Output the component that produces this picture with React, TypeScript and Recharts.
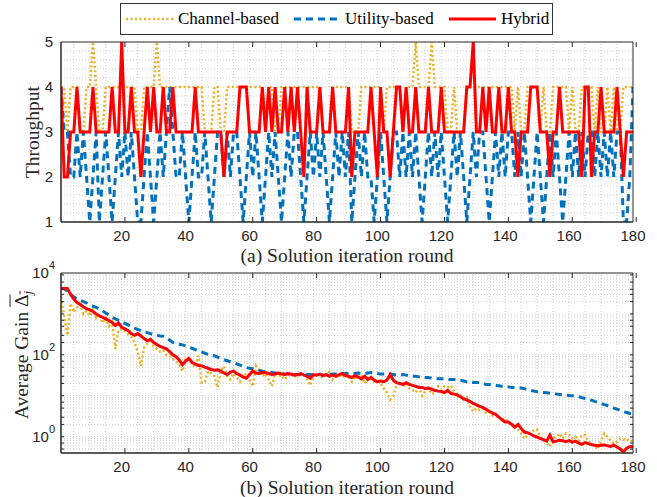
import React from "react";
import { LineChart, Line, XAxis, YAxis, ReferenceLine } from "recharts";

// solution iteration rounds 1..180
const rounds = Array.from({ length: 180 }, (_, i) => i + 1);

// (a) throughput per round
const channelThroughput = [
  4, 4, 3, 4, 4, 4, 3, 3, 4, 4,
  5, 4, 3, 3, 4, 4, 4, 4, 4, 4,
  4, 4, 4, 4, 3, 3, 4, 4, 4, 4,
  5, 4, 4, 4, 4, 4, 4, 4, 4, 4,
  4, 4, 4, 4, 4, 3, 3, 3, 4, 4,
  3, 3, 4, 4, 4, 4, 4, 4, 4, 4,
  4, 4, 4, 4, 3, 4, 4, 3, 3, 4,
  4, 4, 4, 4, 4, 4, 4, 4, 4, 4,
  4, 4, 3, 3, 3, 4, 4, 4, 4, 4,
  4, 3, 3, 3, 4, 4, 4, 4, 4, 4,
  4, 3, 4, 4, 4, 4, 4, 3, 4, 4,
  4, 5, 4, 4, 4, 4, 5, 4, 4, 4,
  4, 3, 3, 4, 3, 3, 3, 4, 4, 4,
  4, 4, 4, 4, 4, 4, 4, 4, 4, 4,
  4, 4, 3, 4, 3, 3, 4, 4, 4, 4,
  3, 4, 3, 3, 4, 4, 4, 4, 4, 3,
  4, 3, 3, 4, 4, 4, 4, 3, 4, 3,
  3, 4, 3, 4, 3, 3, 4, 4, 4, 4,
];
const utilityThroughput = [
  4, 3, 3, 2, 2, 3, 2, 3, 2, 1,
  2, 3, 1, 2, 3, 2, 1, 2, 3, 2,
  3, 2, 3, 2, 1, 1, 2, 3, 2, 1,
  2, 3, 2, 3, 4, 3, 2, 2, 3, 2,
  1, 2, 3, 2, 2, 3, 2, 1, 2, 3,
  3, 2, 3, 2, 3, 3, 2, 1, 2, 3,
  2, 3, 2, 1, 2, 3, 2, 3, 2, 1,
  2, 3, 2, 3, 3, 2, 1, 2, 3, 2,
  3, 2, 3, 2, 1, 2, 3, 2, 3, 2,
  3, 1, 2, 3, 2, 3, 2, 2, 1, 2,
  3, 2, 1, 2, 3, 3, 2, 3, 2, 3,
  2, 3, 2, 1, 2, 3, 2, 3, 2, 3,
  2, 1, 2, 3, 2, 3, 2, 1, 2, 3,
  2, 3, 3, 2, 1, 2, 3, 2, 3, 2,
  3, 3, 2, 3, 2, 3, 2, 1, 2, 3,
  2, 1, 2, 3, 2, 3, 2, 1, 2, 3,
  2, 3, 2, 3, 2, 3, 3, 2, 3, 2,
  3, 2, 3, 2, 3, 3, 1, 1, 2, 4,
];
const hybridThroughput = [
  4, 2, 2, 3, 3, 4, 3, 3, 3, 3,
  4, 3, 3, 3, 3, 3, 4, 3, 3, 5,
  3, 3, 4, 3, 3, 2, 3, 4, 3, 4,
  3, 3, 4, 3, 3, 4, 3, 3, 3, 3,
  3, 3, 4, 3, 3, 3, 3, 3, 3, 3,
  3, 2, 3, 3, 3, 3, 4, 4, 4, 3,
  3, 3, 3, 4, 3, 4, 3, 4, 3, 3,
  4, 3, 4, 3, 4, 3, 2, 4, 3, 3,
  3, 4, 3, 3, 3, 4, 3, 3, 3, 3,
  4, 2, 3, 3, 3, 3, 3, 4, 3, 2,
  4, 3, 3, 2, 3, 4, 4, 3, 4, 3,
  3, 4, 3, 3, 3, 4, 3, 3, 3, 4,
  3, 3, 3, 3, 3, 3, 3, 4, 4, 5,
  3, 3, 4, 3, 4, 3, 3, 4, 3, 3,
  4, 3, 3, 2, 3, 3, 3, 4, 4, 4,
  3, 3, 3, 2, 3, 3, 4, 3, 3, 3,
  3, 3, 3, 2, 4, 4, 2, 3, 3, 4,
  3, 3, 3, 3, 4, 3, 2, 3, 3, 3,
];

// (b) average gain per round (log scale)
const channelGain = [
  2600, 900, 300, 1800, 1100, 1400, 2000, 1000, 1200, 900,
  1300, 800, 1000, 600, 800, 500, 650, 140, 400, 430,
  380, 320, 280, 200, 120, 53, 150, 190, 245, 160,
  140, 120, 130, 100, 95, 80, 70, 60, 40, 85,
  75, 60, 50, 95, 21, 22, 40, 35, 30, 16,
  40, 53, 30, 25, 35, 28, 22, 30, 35, 25,
  17, 53, 40, 30, 35, 25, 17, 35, 30, 32,
  25, 30, 35, 28, 33, 30, 36, 25, 18, 30,
  35, 30, 28, 33, 38, 25, 30, 32, 28, 35,
  28, 22, 30, 25, 32, 20, 25, 28, 22, 24,
  20, 15, 12, 8, 10, 18, 22, 17, 20, 15,
  14, 12, 16, 10, 13, 15, 11, 12, 17, 14,
  17, 16, 18, 13, 11, 10, 8, 9, 5.5, 4.1,
  5, 4.5, 4.8, 3.9, 4.2, 3.3, 3.6, 3.1, 2.6, 2.8,
  2.2, 1.9, 2.1, 1.5, 1.2, 0.9, 1.1, 1.3, 1.4, 1.5,
  1.0, 0.8, 0.7, 0.58, 0.9, 1.0, 1.2, 0.9, 1.2, 1.1,
  0.9, 1.0, 0.8, 1.1, 1.1, 0.75, 0.7, 0.6, 0.5, 0.8,
  1.2, 1.0, 0.8, 0.68, 0.75, 0.9, 0.85, 0.9, 0.75, 0.8,
];
const utilityGain = [
  4200, 4100, 3600, 3000, 2600, 2350, 2150, 2000, 1850, 1700,
  1550, 1450, 1340, 1200, 1050, 940, 830, 760, 700, 640,
  590, 540, 490, 450, 420, 390, 370, 350, 330, 310,
  300, 290, 285, 260, 230, 200, 185, 182, 175, 165,
  155, 145, 135, 125, 118, 110, 102, 97, 95, 88,
  82, 76, 72, 68, 65, 60, 56, 52, 49, 47,
  46, 44, 42, 40, 39, 38, 37, 36, 35, 35,
  34, 34, 33, 33, 33, 33, 32, 33, 33, 32,
  33, 33, 32, 33, 33, 34, 34, 33, 34, 35,
  35, 34, 35, 36, 35, 35, 36, 37, 36, 35,
  34, 34, 35, 34, 33, 32, 32, 33, 32, 31,
  30, 30, 29, 29, 28, 28, 27, 27, 26, 26,
  26, 25, 25, 25, 24, 24, 23, 22, 22, 21,
  21, 21, 20, 19, 19, 18, 18, 17.5, 17, 17,
  16.5, 16, 16, 15.6, 15.5, 15, 14, 13.5, 13, 12.5,
  12.2, 12, 11.8, 11.5, 11.4, 11, 10.8, 10.5, 10.3, 10.1,
  10, 9.8, 9.5, 9, 8.6, 8.2, 7.8, 7.3, 6.9, 6.5,
  6.1, 5.8, 5.4, 5.0, 4.7, 4.4, 4.1, 3.9, 3.7, 3.5,
];
const hybridGain = [
  4200, 4200, 4200, 3000, 2300, 1900, 1700, 1500, 1340, 1250,
  1150, 1000, 900, 830, 760, 690, 620, 520, 600, 470,
  430, 390, 330, 300, 330, 290, 250, 220, 240, 200,
  180, 160, 150, 140, 120, 100, 90, 75, 58, 70,
  82, 65, 60, 55, 54, 50, 47, 44, 42, 43,
  40, 36, 33, 38, 40, 35, 32, 29, 27, 33,
  40, 36, 35, 37, 37, 35, 33, 34, 36, 34,
  33, 35, 34, 32, 33, 35, 32, 30, 27, 33,
  32, 34, 31, 33, 30, 32, 30, 33, 35, 31,
  30, 28, 31, 29, 26, 30, 25, 28, 24, 22,
  23, 22, 24, 33, 24, 21, 20, 19, 21, 19,
  18, 17, 16, 16, 15, 15.5, 14.5, 13.5, 13, 12.7,
  12, 13.5, 11.5, 11, 10.5, 9.5, 8.5, 7.8, 7.3, 6.5,
  6, 5.5, 5.2, 4.7, 4.2, 3.8, 3.5, 3, 2.6, 2.3,
  2.3, 2.0, 1.7, 2.0, 1.6, 1.3, 1.25, 1.15, 1.05, 0.98,
  0.9, 0.85, 0.78, 1.1, 0.75, 0.78, 0.82, 0.8, 0.76, 0.8,
  0.74, 0.78, 0.7, 0.65, 0.72, 0.68, 0.64, 0.62, 0.6, 0.62,
  0.63, 0.6, 0.58, 0.62, 0.56, 0.5, 0.43, 0.52, 0.57, 0.58,
];

const xTicks = [20, 40, 60, 80, 100, 120, 140, 160, 180];
const throughputTicks = [1, 2, 3, 4, 5];
const gainTicks = [1, 100, 10000];

// grid positions (minor grid like MATLAB)
const gridX = rounds.filter((r) => r % 5 === 0 && r < 180);
const gridThroughput = [1.2, 1.4, 1.6, 1.8, 2, 2.2, 2.4, 2.6, 2.8, 3, 3.2, 3.4, 3.6, 3.8, 4, 4.2, 4.4, 4.6, 4.8];
const gridGain = [
  0.5, 0.6, 0.7, 0.8, 0.9,
  1, 2, 3, 4, 5, 6, 7, 8, 9,
  10, 20, 30, 40, 50, 60, 70, 80, 90,
  100, 200, 300, 400, 500, 600, 700, 800, 900,
  1000, 2000, 3000, 4000, 5000, 6000, 7000, 8000, 9000,
];

const throughputRows = rounds.map((r, i) => ({
  round: r,
  channel: channelThroughput[i],
  utility: utilityThroughput[i],
  hybrid: hybridThroughput[i],
}));
const gainRows = rounds.map((r, i) => ({
  round: r,
  channel: channelGain[i],
  utility: utilityGain[i],
  hybrid: hybridGain[i],
}));

const ORANGE = "#EDB120";
const BLUE = "#0072BD";
const RED = "#FF0000";
const INK = "#262626";
const GRID = "#cfcfcf";

const tickFont = { fontSize: 15, fill: INK, fontFamily: '"Liberation Sans", Arial, sans-serif' };
const serif = '"Liberation Serif", "Times New Roman", serif';
const blank = () => "";

const LogTick = (props: any) => {
  const { x, y, payload } = props;
  const exp = Math.round(Math.log10(payload.value));
  return (
    <text x={x + 2} y={y + 5} textAnchor="end" fontSize={15} fill={INK} fontFamily={tickFont.fontFamily}>
      10
      <tspan dy={-9} fontSize={11}>{exp}</tspan>
    </text>
  );
};

function seriesLines() {
  return [
    <Line key="c" dataKey="channel" type="linear" stroke={ORANGE} strokeWidth={2.5} strokeDasharray="2 2.5" dot={false} isAnimationActive={false} />,
    <Line key="u" dataKey="utility" type="linear" stroke={BLUE} strokeWidth={3} strokeDasharray="7 5" dot={false} isAnimationActive={false} />,
    <Line key="h" dataKey="hybrid" type="linear" stroke={RED} strokeWidth={3} dot={false} isAnimationActive={false} />,
  ];
}

function ThroughputPanel() {
  return (
    <LineChart width={657} height={265} data={throughputRows} margin={{ top: 42, right: 24, bottom: 0, left: 0 }}>
      {gridX.map((v) => (
        <ReferenceLine key={"gx" + v} x={v} stroke={GRID} strokeDasharray="1 2" />
      ))}
      {gridThroughput.map((v) => (
        <ReferenceLine key={"gy" + v} y={v} stroke={GRID} strokeDasharray="1 2" />
      ))}
      <XAxis dataKey="round" type="number" domain={[1, 180]} ticks={xTicks} height={43}
        tickLine={false} axisLine={{ stroke: INK }} tick={tickFont} allowDataOverflow />
      <XAxis xAxisId="top" orientation="top" mirror type="number" domain={[1, 180]} ticks={xTicks}
        tickSize={5} tickFormatter={blank} stroke={INK} />
      <XAxis xAxisId="in" orientation="bottom" mirror type="number" domain={[1, 180]} ticks={xTicks}
        tickSize={5} tickFormatter={blank} stroke={INK} />
      <YAxis type="number" domain={[1, 5]} ticks={throughputTicks} width={61}
        tickLine={false} axisLine={{ stroke: INK }} tick={tickFont} allowDataOverflow />
      <YAxis yAxisId="r" orientation="right" mirror type="number" domain={[1, 5]} ticks={throughputTicks}
        tickSize={5} tickFormatter={blank} stroke={INK} />
      <YAxis yAxisId="in" orientation="left" mirror type="number" domain={[1, 5]} ticks={throughputTicks}
        tickSize={5} tickFormatter={blank} stroke={INK} />
      {seriesLines()}
    </LineChart>
  );
}

function GainPanel() {
  return (
    <LineChart width={657} height={252} data={gainRows} margin={{ top: 28, right: 24, bottom: 0, left: 0 }}>
      {gridX.map((v) => (
        <ReferenceLine key={"gx" + v} x={v} stroke={GRID} strokeDasharray="1 2" />
      ))}
      {gridGain.map((v) => (
        <ReferenceLine key={"gy" + v} y={v} stroke={GRID} strokeDasharray="1 2" />
      ))}
      <XAxis dataKey="round" type="number" domain={[1, 180]} ticks={xTicks} height={44}
        tickLine={false} axisLine={{ stroke: INK }} tick={tickFont} allowDataOverflow />
      <XAxis xAxisId="top" orientation="top" mirror type="number" domain={[1, 180]} ticks={xTicks}
        tickSize={5} tickFormatter={blank} stroke={INK} />
      <XAxis xAxisId="in" orientation="bottom" mirror type="number" domain={[1, 180]} ticks={xTicks}
        tickSize={5} tickFormatter={blank} stroke={INK} />
      <YAxis type="number" scale="log" domain={[0.4, 10000]} ticks={gainTicks} width={61}
        tickLine={false} axisLine={{ stroke: INK }} tick={<LogTick />} allowDataOverflow />
      <YAxis yAxisId="r" orientation="right" mirror type="number" scale="log" domain={[0.4, 10000]}
        ticks={gridGain} tickSize={3} tickFormatter={blank} stroke={INK} allowDataOverflow />
      <YAxis yAxisId="in" orientation="left" mirror type="number" scale="log" domain={[0.4, 10000]}
        ticks={gridGain} tickSize={3} tickFormatter={blank} stroke={INK} allowDataOverflow />
      {seriesLines()}
    </LineChart>
  );
}

function LegendBox() {
  const item = (left: number, color: string, dash: string | undefined, w: number) => (
    <svg style={{ position: "absolute", left, top: 11 }} width={47} height={8}>
      <line x1={0} y1={4} x2={47} y2={4} stroke={color} strokeWidth={w} strokeDasharray={dash} />
    </svg>
  );
  const label = (left: number, text: string) => (
    <span style={{ position: "absolute", left, top: 4, fontFamily: serif, fontSize: 17, color: "#000", lineHeight: "22px", whiteSpace: "nowrap" }}>
      {text}
    </span>
  );
  return (
    <div style={{ position: "absolute", left: 120, top: 3, width: 433, height: 32, border: "1px solid #333",
      boxSizing: "border-box", background: "#fff" }}>
      {item(5, ORANGE, "2 2.5", 2.5)}
      {label(57, "Channel-based")}
      {item(173, BLUE, "7 5", 3)}
      {label(224, "Utility-based")}
      {item(328, RED, undefined, 3)}
      {label(380, "Hybrid")}
    </div>
  );
}

const titleStyle: React.CSSProperties = {
  position: "absolute", fontFamily: serif, fontSize: 19.5, color: INK, whiteSpace: "nowrap", lineHeight: "22px",
};

export default function App() {
  return (
    <div style={{ position: "absolute", left: 0, top: 0, width: 657, height: 497, background: "#fff", overflow: "hidden" }}>
      <div style={{ position: "absolute", left: 0, top: 0 }}>
        <ThroughputPanel />
      </div>
      <div style={{ position: "absolute", left: 0, top: 245 }}>
        <GainPanel />
      </div>
      <LegendBox />
      <div style={{ ...titleStyle, left: 347, top: 256, transform: "translate(-50%, -50%)" }}>
        (a) Solution iteration round
      </div>
      <div style={{ ...titleStyle, left: 347, top: 488, transform: "translate(-50%, -50%)" }}>
        (b) Solution iteration round
      </div>
      <div style={{ ...titleStyle, left: 33, top: 132, transform: "translate(-50%, -50%) rotate(-90deg)" }}>
        Throughput
      </div>
      <div style={{ ...titleStyle, left: 25, top: 355, transform: "translate(-50%, -50%) rotate(-90deg)" }}>
        Average Gain{" "}
        <span style={{ textDecoration: "overline" }}>
          Δ<sub style={{ fontStyle: "italic", fontSize: 13 }}>j</sub>
        </span>
      </div>
    </div>
  );
}
